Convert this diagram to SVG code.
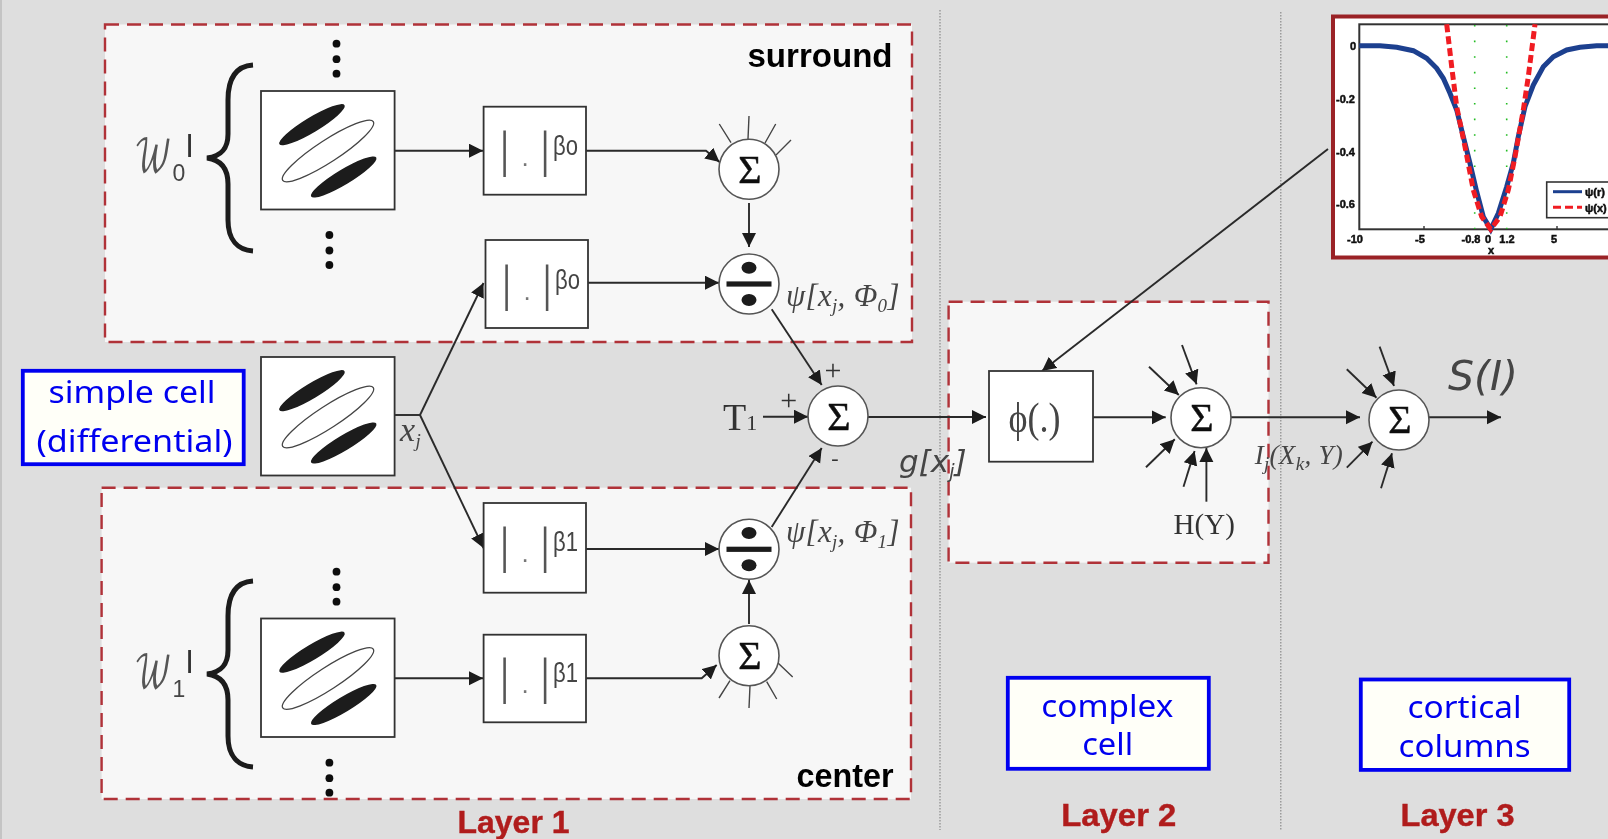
<svg xmlns="http://www.w3.org/2000/svg" width="1608" height="839" viewBox="0 0 1608 839">
<style>
.region{fill:#f7f7f7;stroke:#b03038;stroke-width:2.4;stroke-dasharray:14 8}
.sep{stroke:#8a8a8a;stroke-width:1.2;stroke-dasharray:1.5 1.5;fill:none}
.box{fill:#fff;stroke:#333;stroke-width:1.8}
.circ{fill:#fff;stroke:#555;stroke-width:1.6}
.con{fill:none;stroke:#2a2a2a;stroke-width:1.9}
.arrow{marker-end:url(#ah)}
.tick{fill:none;stroke:#444;stroke-width:1.4}
.sig{font:40px "Liberation Serif",serif;fill:#111;stroke:#111;stroke-width:.5;text-anchor:middle}
.blue{fill:#fffff8;stroke:#0000f0;stroke-width:3.8}
.bt{font:30px "Noto Sans",sans-serif;fill:#0000f0;text-anchor:middle}
.blk{font:bold 33px "Liberation Sans",sans-serif;fill:#000}
.layer{font:bold 32px "Liberation Sans",sans-serif;fill:#b01c1c;stroke:#b01c1c;stroke-width:.4}
.math{font:italic 31px "Liberation Serif",serif;fill:#444;letter-spacing:.3px}
.sub{font-size:19px}
.obl{font:italic 31px "DejaVu Sans",sans-serif;fill:#444}
.ser{font:29px "Liberation Serif",serif;fill:#333}
.bar{font:51px "Liberation Serif",serif;fill:#555;text-anchor:middle}
.dot{font-size:26px;font-family:"Liberation Sans",sans-serif;fill:#777}
.beta{font:28px "Liberation Sans",sans-serif;fill:#444}
.wl{font:44px "DejaVu Math TeX Gyre","Noto Sans Math","Liberation Serif",serif;fill:#555}
.wn{font:23px "Liberation Sans",sans-serif;fill:#444}
.wi{font:32px "Liberation Sans",sans-serif;fill:#333}
.tk{font:bold 11px "Liberation Sans",sans-serif;fill:#111;stroke:#111;stroke-width:.5}
</style>
<defs>
<filter id="soft" x="0" y="0" width="100%" height="100%"><feGaussianBlur stdDeviation="0.45"/></filter>
<marker id="ah" markerUnits="userSpaceOnUse" markerWidth="15" markerHeight="15" refX="14" refY="7" orient="auto"><path d="M0 0L14 7L0 14z" fill="#1a1a1a"/></marker>
<g id="rf">
<rect class="box" width="133.6" height="118.5"/>
<ellipse cx="51" cy="33.7" rx="38" ry="7.5" transform="rotate(-31 51 33.7)" fill="#1a1a1a"/>
<ellipse cx="67" cy="60" rx="54" ry="11" transform="rotate(-33 67 60)" fill="none" stroke="#444" stroke-width="1.3"/>
<ellipse cx="82.7" cy="86" rx="38" ry="7.5" transform="rotate(-31 82.7 86)" fill="#1a1a1a"/>
</g>
<path id="brace" d="M47 1C32 2 22 12 22 36V70C22 84 16 92 1 94C16 96 22 106 22 120V156C22 176 32 186 47 187" fill="none" stroke="#1a1a1a" stroke-width="5"/>
<g id="vd"><circle cy="0" r="3.9"/><circle cy="15.5" r="3.9"/><circle cy="30" r="3.9"/></g>
<g id="divs"><circle class="circ" r="30"/><rect x="-22.5" y="-2.6" width="45" height="5.2" fill="#1a1a1a"/><ellipse cy="-16.3" rx="7.5" ry="6" fill="#1a1a1a"/><ellipse cy="16" rx="7.5" ry="6" fill="#1a1a1a"/></g>
</defs>
<g filter="url(#soft)">
<rect width="1608" height="839" fill="#dedede"/>
<rect width="2" height="839" fill="#c4c4c4"/>
<path class="sep" d="M940 10V830"/>
<path class="sep" d="M1280.8 12V830"/>

<g id="region-surround"><rect class="region" x="105" y="24.5" width="807" height="317.5"/><text class="blk" x="747.5" y="66.5" textLength="145" lengthAdjust="spacingAndGlyphs">surround</text></g>
<g id="region-center"><rect class="region" x="101.6" y="487.7" width="809.4" height="311.3"/><text class="blk" x="796.5" y="786.5" textLength="97" lengthAdjust="spacingAndGlyphs">center</text></g>
<g id="region-complex"><rect class="region" x="948.6" y="301.7" width="319.9" height="261"/></g>

<g id="connectors">
<path class="con arrow" d="M395 150.7H483"/>
<path class="con arrow" d="M586 150.7H706L719.5 162"/>
<path class="con arrow" d="M749 203V247"/>
<path class="con arrow" d="M588 282.7H719"/>
<path class="con" d="M395 415H420"/>
<path class="con arrow" d="M420 415L483.5 283"/>
<path class="con arrow" d="M420 415L483.5 548"/>
<path class="con arrow" d="M771.7 309.3L821.7 385"/>
<path class="con arrow" d="M771.7 527L821.7 448"/>
<path class="con arrow" d="M763 416.7H808"/>
<path class="con arrow" d="M867 417H986"/>
<path class="con arrow" d="M586 549H719"/>
<path class="con arrow" d="M395 678.3H483"/>
<path class="con arrow" d="M586 678.3H701.7L716.7 665"/>
<path class="con arrow" d="M749 624V580"/>
<path class="con arrow" d="M1328 149L1042 371"/>
<path class="con arrow" d="M1093 417.3H1165.7"/>
<path class="con arrow" d="M1149 366.7L1178.8 395"/>
<path class="con arrow" d="M1182 345L1196.6 384.3"/>
<path class="con arrow" d="M1146 467.3L1174.8 439.3"/>
<path class="con arrow" d="M1183.5 486.7L1194.6 451"/>
<path class="con arrow" d="M1206.4 501.7V448"/>
<path class="con arrow" d="M1231 417.3H1360"/>
<path class="con arrow" d="M1346.8 369.3L1376.5 397.7"/>
<path class="con arrow" d="M1379.6 346.7L1394 386"/>
<path class="con arrow" d="M1346.8 467.7L1372.5 441.7"/>
<path class="con arrow" d="M1381 488.3L1392 453.3"/>
<path class="con arrow" d="M1429 417.3H1501"/>
<path class="tick" d="M719.3 124L731 142.7M749 116L748 139M775.7 124L765 143M791 140L776 155"/>
<path class="tick" d="M792.7 677L778 663M776.7 699L766.7 681.7M749 708L750 685.7M719 698L730 680.7"/>
</g>

<g id="rf-surround"><use href="#rf" x="261" y="91"/></g>
<g id="rf-simple"><use href="#rf" x="261" y="357"/></g>
<g id="rf-center"><use href="#rf" x="261" y="618.5"/></g>

<g id="family-w0">
<use href="#brace" x="206" y="64"/>
<use href="#vd" x="336.5" y="43.7" fill="#111"/><use href="#vd" x="329.4" y="235" fill="#111"/>
<text class="wl" x="134" y="172" textLength="38" lengthAdjust="spacingAndGlyphs">𝒲</text>
<text class="wn" x="172.5" y="181">0</text><text class="wi" x="186" y="157">l</text>
</g>
<g id="family-w1">
<use href="#brace" x="206" y="580"/>
<use href="#vd" x="336.5" y="571.7" fill="#111"/><use href="#vd" x="329.4" y="762.7" fill="#111"/>
<text class="wl" x="134" y="688" textLength="38" lengthAdjust="spacingAndGlyphs">𝒲</text>
<text class="wn" x="172.5" y="697">1</text><text class="wi" x="186" y="673">l</text>
</g>

<g id="beta-s1"><rect class="box" x="483.6" y="106.7" width="102.4" height="88"/><text class="bar" x="504.5 525 545" y="166">|<tspan class="dot">.</tspan>|</text><text class="beta" x="553" y="155" textLength="25" lengthAdjust="spacingAndGlyphs">βo</text></g>
<g id="beta-s2"><rect class="box" x="485.5" y="240" width="102.5" height="88"/><text class="bar" x="506.5 527 547" y="299.5">|<tspan class="dot">.</tspan>|</text><text class="beta" x="555" y="288.5" textLength="25" lengthAdjust="spacingAndGlyphs">βo</text></g>
<g id="beta-c1"><rect class="box" x="483.6" y="503" width="102.4" height="89.7"/><text class="bar" x="504.5 525 545" y="562">|<tspan class="dot">.</tspan>|</text><text class="beta" x="553" y="551" textLength="25" lengthAdjust="spacingAndGlyphs">β1</text></g>
<g id="beta-c2"><rect class="box" x="483.6" y="634.7" width="102.4" height="87.6"/><text class="bar" x="504.5 525 545" y="693">|<tspan class="dot">.</tspan>|</text><text class="beta" x="553" y="682" textLength="25" lengthAdjust="spacingAndGlyphs">β1</text></g>

<g id="sum-surround"><circle class="circ" cx="749" cy="169.3" r="30"/><text class="sig" x="750" y="182.5">Σ</text></g>
<g id="div-surround"><use href="#divs" x="749" y="284"/></g>
<g id="div-center"><use href="#divs" x="749" y="549.3"/></g>
<g id="sum-center"><circle class="circ" cx="749" cy="655.7" r="30"/><text class="sig" x="750" y="669">Σ</text></g>
<g id="sum-main"><circle class="circ" cx="838" cy="416" r="30"/><text class="sig" x="839" y="429.5">Σ</text></g>
<g id="sum-l2"><circle class="circ" cx="1201" cy="417.7" r="30"/><text class="sig" x="1202" y="431">Σ</text></g>
<g id="sum-l3"><circle class="circ" cx="1399" cy="420" r="30"/><text class="sig" x="1400" y="433">Σ</text></g>
<g id="phi"><rect class="box" x="989" y="371" width="104" height="90.7"/><text class="ser" style="font-size:42px;fill:#444" x="1008.5" y="432" textLength="52" lengthAdjust="spacingAndGlyphs">ϕ(.)</text></g>

<g id="labels">
<text class="math" x="786" y="306">ψ[x<tspan class="sub" dy="6">j</tspan><tspan dy="-6">, Φ</tspan><tspan class="sub" dy="6">0</tspan><tspan dy="-6">]</tspan></text>
<text class="math" x="786" y="542">ψ[x<tspan class="sub" dy="6">j</tspan><tspan dy="-6">, Φ</tspan><tspan class="sub" dy="6">1</tspan><tspan dy="-6">]</tspan></text>
<text class="math" style="font-size:34px" x="400" y="441">x<tspan class="sub" dy="6">j</tspan></text>
<text class="obl" x="899" y="471.5">g[x<tspan class="sub" dy="6">j</tspan><tspan dy="-6">]</tspan></text>
<text class="math" style="font-size:27px" x="1254.7" y="464">I<tspan class="sub" dy="6">j</tspan><tspan dy="-6">(X</tspan><tspan class="sub" dy="6">k</tspan><tspan dy="-6">, Y)</tspan></text>
<text class="obl" style="font-size:41px" x="1448" y="390">S(I)</text>
<text class="ser" style="font-size:38px" x="723" y="430">T<tspan style="font-size:22px">1</tspan></text>
<text class="ser" style="font-size:30px" text-anchor="middle" x="833" y="380">+</text>
<text class="ser" style="font-size:30px" text-anchor="middle" x="788.7" y="410">+</text>
<text class="ser" style="font-size:22px" text-anchor="middle" x="835" y="465">-</text>
<text class="ser" x="1173.6" y="534">H(Y)</text>
</g>

<g id="note-simple"><rect class="blue" x="22.8" y="370.8" width="220.9" height="93.4"/><text class="bt" x="132" y="403" textLength="167" lengthAdjust="spacingAndGlyphs">simple cell</text><text class="bt" x="134.6" y="452" textLength="196" lengthAdjust="spacingAndGlyphs">(differential)</text></g>
<g id="note-complex"><rect class="blue" x="1007.8" y="677.8" width="201" height="91"/><text class="bt" x="1107.3" y="716.7" textLength="132" lengthAdjust="spacingAndGlyphs">complex</text><text class="bt" x="1107.7" y="755" textLength="51" lengthAdjust="spacingAndGlyphs">cell</text></g>
<g id="note-columns"><rect class="blue" x="1360.8" y="679.5" width="208.4" height="90.4"/><text class="bt" x="1464.5" y="717.7" textLength="114" lengthAdjust="spacingAndGlyphs">cortical</text><text class="bt" x="1464.6" y="756.7" textLength="132" lengthAdjust="spacingAndGlyphs">columns</text></g>

<g id="layer-labels">
<text class="layer" x="457.5" y="833" textLength="112" lengthAdjust="spacingAndGlyphs">Layer 1</text>
<text class="layer" x="1061.3" y="825.7" textLength="115" lengthAdjust="spacingAndGlyphs">Layer 2</text>
<text class="layer" x="1400.5" y="825.7" textLength="114" lengthAdjust="spacingAndGlyphs">Layer 3</text>
</g>

<g id="chart">
<rect x="1333" y="16.5" width="300" height="241" fill="#fff" stroke="#9a2226" stroke-width="4"/>
<rect x="1359.3" y="24.3" width="300" height="205" fill="#fff" stroke="#333" stroke-width="2"/>
<path d="M1474.7 25V229M1506.7 25V229" fill="none" stroke="#22bb22" stroke-width="1.6" stroke-dasharray="1.6 14"/>
<path d="M1424 229V226M1557 229V226" stroke="#333" stroke-width="1.4"/>
<path d="M1359.3 45.7L1380 45.7L1396.7 47.3L1413.3 50.7L1426.7 58.3L1436.7 68.3L1443.3 78.3L1450 93.3L1456.7 110L1463.3 136.7L1470 163.3L1476.7 191.7L1483.3 216.7L1490.7 229.3L1498.3 213.3L1506.7 186.7L1513.3 163.3L1518.3 136.7L1525 106.7L1533.3 85L1543.3 66.7L1553.3 56.7L1566.7 50L1580 47.3L1596.7 45.7L1608 45.7" fill="none" stroke="#1f3f8f" stroke-width="5"/>
<path d="M1446.7 24.3L1451.7 66.7L1456.7 106.7L1465 146.7L1473.3 190L1481.7 216.7L1490.7 229.3L1500 216.7L1508.3 190L1515 156.7L1523.3 110L1528.3 76.7L1531.7 50L1535 24.3" fill="none" stroke="#f01c24" stroke-width="5" stroke-dasharray="8 4"/>
<rect x="1546.7" y="182" width="80" height="35.7" fill="#fff" stroke="#333" stroke-width="1.6"/>
<path d="M1553 191.7H1582" stroke="#1f3f8f" stroke-width="3"/>
<path d="M1553 207.3H1582" stroke="#f01c24" stroke-width="3" stroke-dasharray="8 4"/>
<text class="tk" x="1585" y="196">ψ(r)</text>
<text class="tk" x="1585" y="212">ψ(x)</text>
<g text-anchor="end"><text class="tk" x="1356" y="50">0</text><text class="tk" x="1355" y="103">-0.2</text><text class="tk" x="1355" y="156">-0.4</text><text class="tk" x="1355" y="208">-0.6</text></g>
<g text-anchor="middle"><text class="tk" x="1355" y="243">-10</text><text class="tk" x="1420" y="243">-5</text><text class="tk" x="1471" y="243">-0.8</text><text class="tk" x="1488" y="243">0</text><text class="tk" x="1507" y="243">1.2</text><text class="tk" x="1554" y="243">5</text><text class="tk" x="1491" y="254">x</text></g>
</g>
</g>
</svg>
